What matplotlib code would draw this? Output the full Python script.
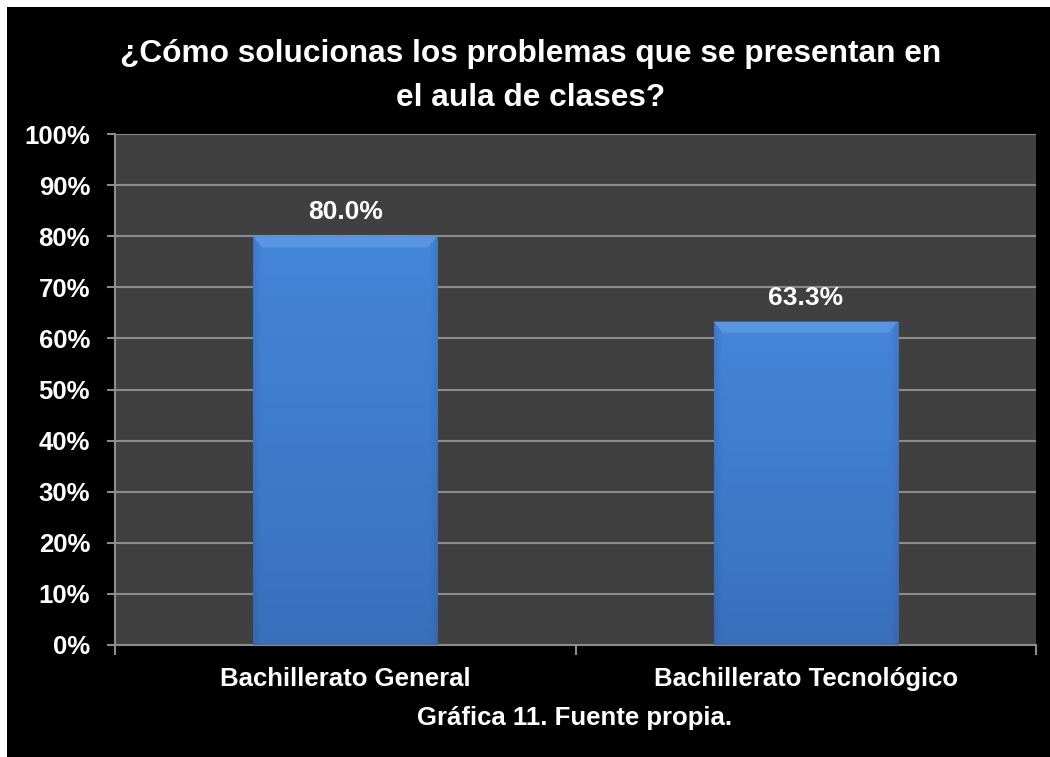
import numpy as np
import matplotlib.pyplot as plt
from matplotlib.patches import Rectangle
from matplotlib.colors import LinearSegmentedColormap

plt.rcParams['font.family'] = ['Liberation Sans', 'DejaVu Sans']
plt.rcParams['font.weight'] = 'bold'

categories = ['Bachillerato General', 'Bachillerato Tecnológico']
values = [80.0, 63.3]
yticks = [0, 10, 20, 30, 40, 50, 60, 70, 80, 90, 100]
title = '¿Cómo solucionas los problemas que se presentan en\nel aula de clases?'
caption = 'Gráfica 11. Fuente propia.'

fig = plt.figure(figsize=(10.5, 7.57), dpi=100)
fig.patch.set_facecolor('black')
# white frame on top and left edges
fig.add_artist(Rectangle((0, 0), 7 / 1050, 1, transform=fig.transFigure,
                         facecolor='white', edgecolor='none', zorder=-5))
fig.add_artist(Rectangle((0, 1 - 7 / 757), 1, 7 / 757, transform=fig.transFigure,
                         facecolor='white', edgecolor='none', zorder=-5))

ax = fig.add_axes([115 / 1050, 1 - 645 / 757, 921 / 1050, 511 / 757])
ax.set_facecolor('#404040')

x = np.arange(len(categories))
bars = ax.bar(x, values, width=0.4, color='#3f7fd0', zorder=3)

# gradient fill on each bar (darker toward bottom and sides)
cmap = LinearSegmentedColormap.from_list('b', ['#2a5590', '#3b72bf', '#4486d8'])
ny, nx = 200, 100
vert = np.linspace(0, 1, ny)[:, None]
hx = np.linspace(-1, 1, nx)[None, :]
side = 1 - 0.3 * np.clip((np.abs(hx) - 0.92) / 0.08, 0, 1)
grad = (vert * 0.55 + 0.45) * side
for b in bars:
    bx, by = b.get_x(), b.get_y()
    bw, bh = b.get_width(), b.get_height()
    im = ax.imshow(grad, cmap=cmap, vmin=0, vmax=1, origin='lower', aspect='auto',
                   extent=[bx, bx + bw, by, by + bh], zorder=4, interpolation='bilinear')
    im.set_clip_path(b)
    # light bevel on top
    ax.fill([bx, bx + bw, bx + bw * 0.95, bx + bw * 0.05],
            [by + bh, by + bh, by + bh - 2.2, by + bh - 2.2],
            color='#5e9ae4', alpha=0.85, zorder=5, linewidth=0)
    ax.text(bx + bw / 2, bh + 2.3, f'{bh:.1f}%', ha='center', va='bottom',
            color='white', fontsize=19, fontweight='bold', zorder=6)

ax.set_xlim(-0.5, len(categories) - 0.5)
ax.set_ylim(0, 100)
ax.set_yticks(yticks)
ax.set_yticklabels([f'{v}%' for v in yticks])
ax.yaxis.grid(True, color='#8c8c8c', linewidth=1.5, zorder=0)
ax.set_axisbelow(True)

ax.set_xticks(x)
ax.set_xticklabels(categories)
ax.set_xticks(np.arange(-0.5, len(categories)), minor=True)
ax.tick_params(axis='x', which='major', length=0, pad=16, labelsize=18.5, colors='white')
ax.tick_params(axis='x', which='minor', length=7, width=1.5, color='#8c8c8c', direction='out')
ax.tick_params(axis='y', length=6, width=1.5, color='#8c8c8c', pad=12, labelsize=18.5,
               labelcolor='white')

for s in ['top', 'right']:
    ax.spines[s].set_visible(False)
for s in ['left', 'bottom']:
    ax.spines[s].set_color('#8c8c8c')
    ax.spines[s].set_linewidth(1.5)

fig.text(531 / 1050, 1 - 76 / 757, title, ha='center', va='center', color='white',
         fontsize=22.8, fontweight='bold', linespacing=1.65)
fig.text(575 / 1050, 1 - 718 / 757, caption, ha='center', va='center', color='white',
         fontsize=18.5, fontweight='bold')

fig.savefig('out.png', dpi=100, facecolor=fig.get_facecolor())
